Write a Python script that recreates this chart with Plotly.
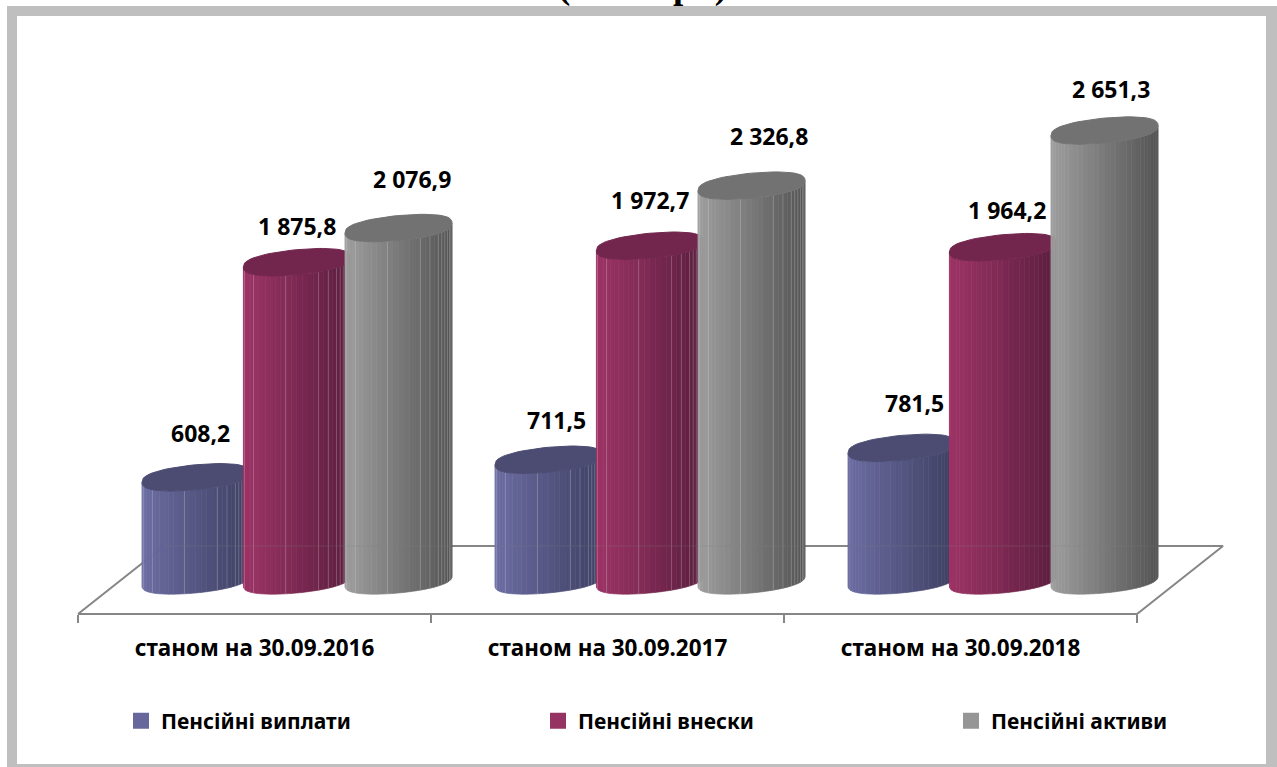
import math
import plotly.graph_objects as go

# ---- data ----
categories = ["станом на 30.09.2016", "станом на 30.09.2017", "станом на 30.09.2018"]
series_names = ["Пенсійні виплати", "Пенсійні внески", "Пенсійні активи"]
pension_payments = [608.2, 711.5, 781.5]
pension_contributions = [1875.8, 1972.7, 1964.2]
pension_assets = [2076.9, 2326.8, 2651.3]
title_text = "(млн. грн)"

# ---- styling ----
W, H = 1277, 767
FONT = "'Noto Sans', sans-serif"
series_values = [pension_payments, pension_contributions, pension_assets]
light = [(108, 108, 162), (158, 52, 102), (158, 158, 158)]
dark = [(62, 64, 98), (90, 30, 62), (84, 84, 84)]
top_col = ["#4c4c72", "#72264e", "#727272"]
legend_col = ["#67679c", "#953462", "#969696"]
offsets = [0.333, 0.62, 0.908]
label_dx = [[5, 0, 13], [8, 0, 17], [13, 4, 6]]
label_dy = [[44, 36, 49], [40, 46, 50], [45, 37, 42]]

PX_PER_X = 353.0
PX_PER_Y = 0.1697
X0_PX, BASE_PX, AXIS_PX = 78.0, 580.5, 614.0
R = 53.5 / PX_PER_X
B = 12.5 / PX_PER_Y
S = 5.0 / PX_PER_Y
N = 30
line_facets = [2, 6, 13, 19, 21, 23, 24, 25, 26, 27, 28]


def ell(cx, cy, t):
    sn = math.sin(t)
    sn = math.copysign(abs(sn) ** 0.75, sn)
    return cx + R * math.cos(t), cy + S * math.cos(t) - B * sn


fig = go.Figure()

# floor
fy = (BASE_PX - AXIS_PX) / PX_PER_Y
by = (BASE_PX - 546) / PX_PER_Y
bl = (164 - X0_PX) / PX_PER_X
br = (1223 - X0_PX) / PX_PER_X
fig.add_trace(go.Scatter(
    x=[0, bl, br, 3, 0], y=[fy, by, by, fy, fy], mode="lines",
    line=dict(color="#868686", width=2), showlegend=False, hoverinfo="skip"))

# cylinders
for s, values in enumerate(series_values):
    for k in range(N):
        t0 = math.pi - math.pi * k / N
        t1 = math.pi - math.pi * (k + 1) / N
        f = (1 - math.cos(math.pi - (t0 + t1) / 2)) / 2
        c = [round(light[s][i] + (dark[s][i] - light[s][i]) * f) for i in range(3)]
        xs, ys = [], []
        for g, v in enumerate(values):
            cx = g + offsets[s]
            ax, ay = ell(cx, v, t0)
            bx, by_ = ell(cx, v, t1)
            dx, dy = ell(cx, 0, t1)
            ex, ey = ell(cx, 0, t0)
            xs += [ax, bx, dx, ex, ax, None]
            ys += [ay, by_, dy, ey, ay, None]
        fig.add_trace(go.Scatter(
            x=xs, y=ys, mode="lines", fill="toself",
            fillcolor=f"rgb({c[0]},{c[1]},{c[2]})",
            line=dict(color=f"rgb({c[0]},{c[1]},{c[2]})", width=0.6),
            showlegend=False, hoverinfo="skip"))
    # facet highlights on the first two groups
    xs, ys = [], []
    for g, v in enumerate(values[:2]):
        cx = g + offsets[s]
        for k in line_facets:
            t = math.pi - math.pi * k / N
            a = ell(cx, v, t)
            b = ell(cx, 0, t)
            xs += [a[0], b[0], None]
            ys += [a[1], b[1], None]
    fig.add_trace(go.Scatter(
        x=xs, y=ys, mode="lines",
        line=dict(color="rgba(255,255,255,0.2)", width=1),
        showlegend=False, hoverinfo="skip"))
    # top caps
    xs, ys = [], []
    for g, v in enumerate(values):
        cx = g + offsets[s]
        for j in range(61):
            p = ell(cx, v, 2 * math.pi * j / 60)
            xs.append(p[0])
            ys.append(p[1])
        xs.append(None)
        ys.append(None)
    fig.add_trace(go.Scatter(
        x=xs, y=ys, mode="lines", fill="toself", fillcolor=top_col[s],
        line=dict(color=top_col[s], width=1), showlegend=False, hoverinfo="skip"))

# faint back edge showing through
fig.add_trace(go.Scatter(
    x=[bl, br], y=[by, by], mode="lines",
    line=dict(color="rgba(134,134,134,0.25)", width=1),
    showlegend=False, hoverinfo="skip"))

# legends (one per entry, spaced as in the reference)
legend_ids = ["legend", "legend2", "legend3"]
legend_x_px = [121, 538, 951]
for s, name in enumerate(series_names):
    fig.add_trace(go.Scatter(
        x=[None], y=[None], mode="markers", name=name, legend=legend_ids[s],
        marker=dict(symbol="square", size=16, color=legend_col[s])))


def fmt(v):
    whole, frac = f"{v:.1f}".split(".")
    if len(whole) > 3:
        whole = whole[:-3] + " " + whole[-3:]
    return f"{whole},{frac}"


annotations = []
for g in range(3):
    for s, values in enumerate(series_values):
        annotations.append(dict(
            x=g + offsets[s], y=values[g], xref="x", yref="y", text=f"<b>{fmt(values[g])}</b>",
            showarrow=False, xshift=label_dx[g][s], yshift=label_dy[g][s],
            font=dict(family=FONT, size=23, color="black"), xanchor="center", yanchor="middle"))
annotations.append(dict(
    x=642 / W, y=1 + 14 / H, xref="paper", yref="paper", text=f"<b>{title_text}</b>",
    showarrow=False, xanchor="center", yanchor="middle",
    font=dict(family="'Liberation Serif', serif", size=37, color="black")))


def rect(x0, y0, x1, y1):
    return dict(type="rect", xref="paper", yref="paper", layer="below",
                x0=x0 / W, x1=x1 / W, y0=1 - y1 / H, y1=1 - y0 / H,
                fillcolor="#bfbfbf", line=dict(width=0))


shapes = [rect(7, 6, W, 16), rect(7, 764, W, H), rect(7, 6, 17, H), rect(1266, 6, W, H)]

leg_base = dict(orientation="v", xanchor="left", yanchor="middle", y=1 - 721 / H,
                bgcolor="rgba(0,0,0,0)", font=dict(family=FONT, size=21, color="black", weight="bold"),
                itemclick=False, itemdoubleclick=False)

fig.update_layout(
    width=W, height=H, margin=dict(l=0, r=0, t=0, b=0), autosize=False,
    paper_bgcolor="white", plot_bgcolor="rgba(0,0,0,0)",
    shapes=shapes, annotations=annotations,
    legend=dict(leg_base, x=legend_x_px[0] / W),
    legend2=dict(leg_base, x=legend_x_px[1] / W),
    legend3=dict(leg_base, x=legend_x_px[2] / W),
    xaxis=dict(
        domain=[0, 1], range=[-X0_PX / PX_PER_X, (W - X0_PX) / PX_PER_X],
        anchor="free", position=1 - AXIS_PX / H,
        tickmode="array", tickvals=[0.5, 1.5, 2.5], ticktext=categories, ticks="",
        showgrid=False, zeroline=False, showline=False,
        tickfont=dict(family=FONT, size=22.5, color="black", weight="bold"),
        ticklabelstandoff=18,
        minor=dict(tickmode="array", tickvals=[0, 1, 2, 3], ticks="outside", ticklen=8,
                   tickcolor="#868686", tickwidth=2, showgrid=False),
    ),
    yaxis=dict(
        domain=[0, 1],
        range=[(BASE_PX - H) / PX_PER_Y, BASE_PX / PX_PER_Y],
        visible=False,
    ),
)

fig.write_html("out.html", config=dict(displayModeBar=False),
               post_script="document.body.style.margin='0';document.body.style.overflow='hidden';")
